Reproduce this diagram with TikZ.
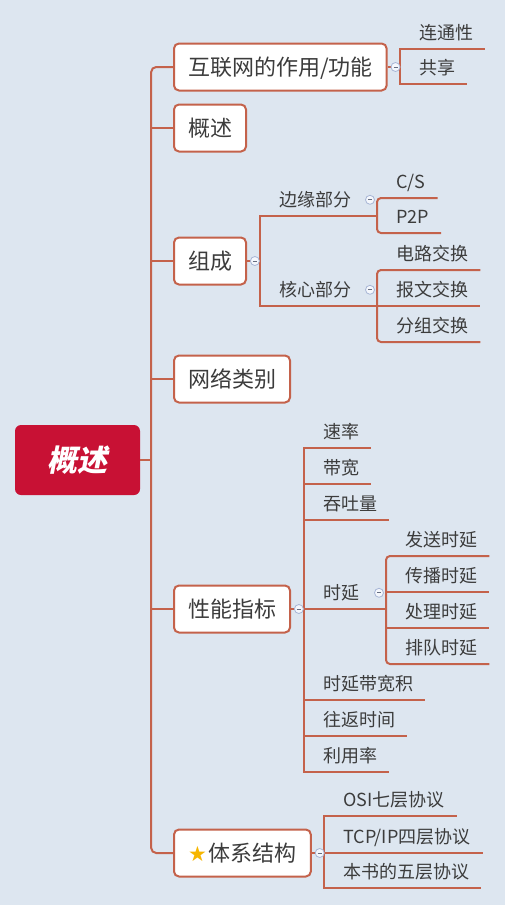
\documentclass[tikz,border=0pt]{standalone}
\usepackage{fontspec}
\setmainfont{Noto Sans CJK SC}
\newfontfamily\rootfont[FakeSlant=0.2]{Noto Sans CJK SC}
\newfontfamily\symfont{DejaVu Sans}
\usetikzlibrary{positioning, calc}

\definecolor{bgblue}{RGB}{221,230,240}
\definecolor{linkred}{RGB}{196,98,75}
\definecolor{rootred}{RGB}{200,17,52}
\definecolor{textgray}{RGB}{60,60,60}
\definecolor{foldline}{RGB}{168,182,214}
\definecolor{foldfill}{RGB}{244,247,252}
\definecolor{stargold}{RGB}{246,182,0}

\begin{document}
\begin{tikzpicture}[x=1pt, y=-1pt]
            \tikzset{
                link/.style={draw=linkred, line width=2pt}, % 连线
                outerlink/.style={link, rounded corners=4pt}, % 外侧连线, 圆角
                root/.style={rectangle, rounded corners=6pt, fill=rootred, text=white,
                    minimum width=125pt, minimum height=70pt,
                    font=\rootfont\bfseries\fontsize{30}{36}\selectfont,
                    text height=26pt, text depth=3pt}, % 中心主题
                topic/.style={rectangle, rounded corners=5pt, draw=linkred, line width=2pt,
                    fill=white, anchor=west, minimum height=47pt, inner xsep=14pt,
                    text=textgray, font=\fontsize{22}{26}\selectfont,
                    text height=19pt, text depth=2.5pt}, % 分支主题
                sub/.style={anchor=south west, inner xsep=0pt, inner ysep=4pt,
                    text height=14pt, text depth=5pt, text=textgray,
                    font=\fontsize{18}{22}\selectfont,
                    execute at begin node=\hspace*{19pt},
                    execute at end node=\hspace*{12pt}}, % 子主题 (下划线)
                fold/.style={circle, draw=foldline, fill=foldfill, line width=0.8pt,
                    minimum size=9pt, inner sep=0pt,
                    path picture={\draw[foldline!60!black, line width=0.7pt]
                        ($(path picture bounding box.center)+(-2,0)$) -- ++(4,0);}}, % 折叠按钮
            }

            \fill[bgblue] (0,0) rectangle (505,905);
            \useasboundingbox (0,0) rectangle (505,905);

            \node[root] (root) at (77.5,460) {概述};
            \node[topic] (zuoyong) at (173,67) {互联网的作用/功能};
            \node[topic] (gaishu) at (173,128) {概述};
            \node[topic] (zucheng) at (173,261) {组成};
            \node[topic] (leibie) at (173,379) {网络类别};
            \node[topic] (xingneng) at (173,609) {性能指标};
            \node[topic] (tixi) at (173,853) {{\symfont\fontsize{21}{22}\selectfont\color{stargold}★}\hspace{2pt}体系结构};

            \node[sub] (liantong) at (400,49) {连通性};
            \node[sub] (gongxiang) at (400,84) {共享};

            \node[sub] (bianyuan) at (260,216) {边缘部分};
            \node[sub] (hexin) at (260,306) {核心部分};
            \node[sub] (cs) at (377,198) {C/S};
            \node[sub] (ptp) at (377,233) {P2P};
            \node[sub] (dianlu) at (377,270) {电路交换};
            \node[sub] (baowen) at (377,306) {报文交换};
            \node[sub] (fenzu) at (377,342) {分组交换};

            \node[sub] (sulv) at (304,448) {速率};
            \node[sub] (daikuan) at (304,484) {带宽};
            \node[sub] (tuntu) at (304,520) {吞吐量};
            \node[sub] (shiyan) at (304,609) {时延};
            \node[sub] (fasong) at (386,556) {发送时延};
            \node[sub] (chuanbo) at (386,592) {传播时延};
            \node[sub] (chuli) at (386,628) {处理时延};
            \node[sub] (paidui) at (386,664) {排队时延};
            \node[sub] (shiyandk) at (304,700) {时延带宽积};
            \node[sub] (wangfan) at (304,736) {往返时间};
            \node[sub] (liyong) at (304,772) {利用率};

            \node[sub] (osi) at (324,816) {OSI七层协议};
            \node[sub] (tcpip) at (324,853) {TCP/IP四层协议};
            \node[sub] (wuceng) at (324,888) {本书的五层协议};

            % 主干
            \coordinate (trunk) at ($(root.east)+(11,0)$);
            \draw[link] (root.east) -- (trunk);
            \draw[link, rounded corners=5pt] (trunk) |- (zuoyong.west) (trunk) |- (tixi.west);
            \draw[link]
            (trunk) |- (gaishu.west)
            (trunk) |- (zucheng.west)
            (trunk) |- (leibie.west)
            (trunk) |- (xingneng.west);

            % 分支
            \draw[link]
            (zuoyong.east) -| (liantong.south west) -- (liantong.south east)
            (zuoyong.east) -| (gongxiang.south west) -- (gongxiang.south east)
            (zucheng.east) -| (bianyuan.south west) -- (bianyuan.south east)
            (zucheng.east) -| (hexin.south west) -- (hexin.south east)
            (xingneng.east) -| (sulv.south west) -- (sulv.south east)
            (xingneng.east) -| (daikuan.south west) -- (daikuan.south east)
            (xingneng.east) -| (tuntu.south west) -- (tuntu.south east)
            (xingneng.east) -- (shiyan.south east)
            (xingneng.east) -| (shiyandk.south west) -- (shiyandk.south east)
            (xingneng.east) -| (wangfan.south west) -- (wangfan.south east)
            (xingneng.east) -| (liyong.south west) -- (liyong.south east)
            (tixi.east) -| (osi.south west) -- (osi.south east)
            (tixi.east) -- (tcpip.south east)
            (tixi.east) -| (wuceng.south west) -- (wuceng.south east);

            \coordinate (bianyuan-j) at (bianyuan.south east -| cs.south west);
            \coordinate (hexin-j) at (hexin.south east -| baowen.south west);
            \coordinate (shiyan-j) at (shiyan.south east -| fasong.south west);
            \draw[link]
            (bianyuan.south east) -- (bianyuan-j)
            (hexin.south east) -- (baowen.south east)
            (shiyan.south east) -- (shiyan-j)
            (shiyan-j) |- (chuanbo.south east)
            (shiyan-j) |- (chuli.south east);
            \draw[outerlink]
            (bianyuan-j) |- (cs.south east)
            (bianyuan-j) |- (ptp.south east)
            (hexin-j) |- (dianlu.south east)
            (hexin-j) |- (fenzu.south east)
            (shiyan-j) |- (fasong.south east)
            (shiyan-j) |- (paidui.south east);

            % 折叠按钮
            \node[fold, right=3pt of zuoyong] (zuoyong-fold) {};
            \node[fold, right=3pt of zucheng] (zucheng-fold) {};
            \node[fold, right=3pt of xingneng] (xingneng-fold) {};
            \node[fold, right=3pt of tixi] (tixi-fold) {};
            \node[fold] (bianyuan-fold) at ($(bianyuan.base -| cs.south west)+(-7,-7)$) {};
            \node[fold] (hexin-fold) at ($(hexin.base -| baowen.south west)+(-7,-7)$) {};
            \node[fold] (shiyan-fold) at ($(shiyan.base -| fasong.south west)+(-7,-7)$) {};
        \end{tikzpicture}
\end{document}
